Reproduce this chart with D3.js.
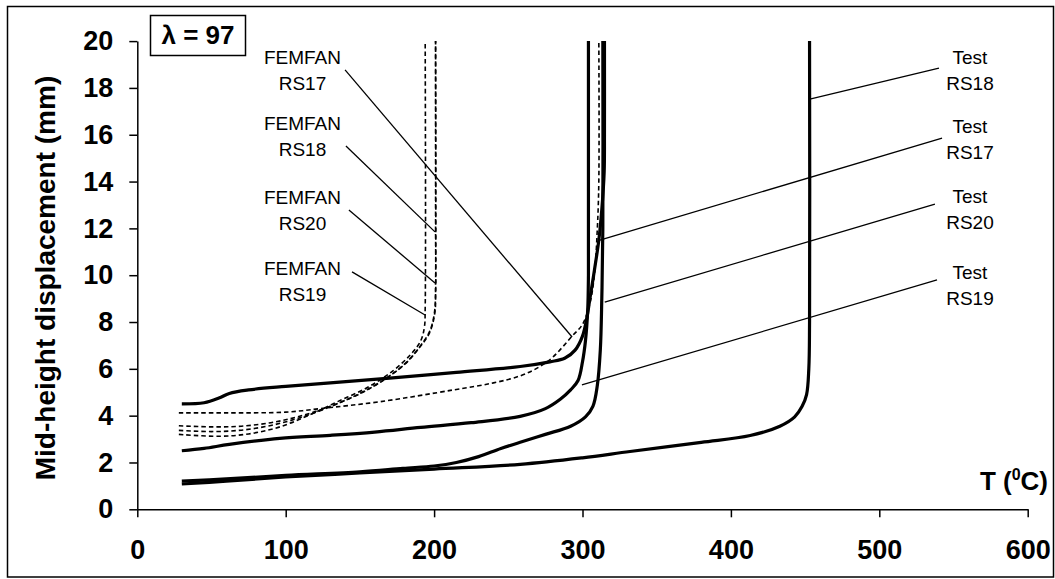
<!DOCTYPE html>
<html>
<head>
<meta charset="utf-8">
<script src="https://cdn.jsdelivr.net/npm/d3@7"></script>
<style>
  body { margin: 0; background: #fff; }
  svg { display: block; }
  text { font-family: "Liberation Sans", Arial, sans-serif; fill: #000; }
</style>
</head>
<body>
<svg id="chart" width="1055" height="579"></svg>
<script>
// Axis ticks
const xTickValues = [0, 100, 200, 300, 400, 500, 600];
const yTickValues = [0, 2, 4, 6, 8, 10, 12, 14, 16, 18, 20];

// Measured furnace tests: [temperature (°C), mid-height displacement (mm)]
const testRS17 = [[30,4.5],[45,4.55],[55,4.75],[62,4.95],[75,5.1],[100,5.25],[130,5.4],[170,5.6],[215,5.85],[258,6.1],[278,6.3],[288,6.45],[295,6.8],[300,7.4],[303,8.2],[305,9.0],[308,10.2],[311,11.5],[313,12.8],[314.6,14.4],[314.8,16],[314.8,20]];
const testRS18 = [[30,1.08],[60,1.2],[100,1.38],[150,1.55],[200,1.72],[258,1.92],[300,2.2],[332,2.47],[380,2.86],[413,3.15],[433,3.55],[443,3.95],[448,4.4],[451,4.9],[452.5,6],[453,8],[453,20]];
const testRS19 = [[30,2.5],[45,2.6],[62,2.77],[96,3.03],[130,3.16],[160,3.3],[191,3.5],[225,3.7],[258,3.97],[275,4.3],[285,4.7],[292,5.1],[297,5.5],[300,6.3],[302,7.2],[303.5,8.5],[304,10],[304,14],[304,20]];
const testRS20 = [[30,1.2],[60,1.3],[100,1.45],[150,1.6],[179,1.75],[200,1.85],[215,2.0],[230,2.25],[245,2.6],[258,2.86],[275,3.2],[292,3.55],[302,3.95],[307,4.4],[310,5.3],[312,6.8],[313,9],[313.7,12],[313.7,20]];

// FEMFAN simulations
const femfanRS17 = [[28,4.12],[60,4.12],[100,4.15],[123,4.3],[164,4.6],[213,5.1],[240,5.4],[258,5.7],[270,6.05],[280,6.5],[293,7.4],[300,7.9],[305,8.8],[308,10],[310,12],[311,14],[311,20]];
const femfanRS18 = [[28,3.57],[50,3.52],[70,3.55],[90,3.7],[108,3.95],[130,4.4],[152,5.0],[170,5.7],[182,6.3],[191,7.0],[197,7.6],[200,8.3],[201,9.2],[201,12],[201,20]];
const femfanRS19 = [[28,3.2],[55,3.12],[75,3.22],[95,3.5],[115,4.0],[135,4.6],[155,5.2],[172,5.9],[184,6.6],[191,7.2],[193.5,7.8],[194,8.6],[194,20]];
const femfanRS20 = [[28,3.37],[50,3.32],[70,3.38],[90,3.58],[110,3.92],[130,4.38],[150,4.95],[168,5.6],[180,6.2],[190,6.9],[197,7.55],[200.5,8.4],[201,9.6],[201,20]];

const testSeries = [testRS17, testRS18, testRS19, testRS20];
const femfanSeries = [femfanRS17, femfanRS18, femfanRS19, femfanRS20];

// Callout labels: two text lines, anchor (T, disp) of first baseline, leader from -> to in data units
const femfanCallouts = [
  { lines: ["FEMFAN", "RS17"], at: [111.3, 19.03], from: [140, 18.77], to: [293, 7.36] },
  { lines: ["FEMFAN", "RS18"], at: [111.3, 16.19], from: [140.6, 15.52], to: [200.6, 11.85] },
  { lines: ["FEMFAN", "RS20"], at: [111.3, 13.04], from: [142.6, 12.78], to: [200.6, 9.67] },
  { lines: ["FEMFAN", "RS19"], at: [111.3, 10.01], from: [144.7, 10.14], to: [193.9, 8.3] }
];
const testCallouts = [
  { lines: ["Test", "RS18"], at: [561.1, 19.02], from: [540.2, 18.85], to: [453.9, 17.53] },
  { lines: ["Test", "RS17"], at: [561.1, 16.07], from: [542.3, 15.86], to: [311.7, 11.5] },
  { lines: ["Test", "RS20"], at: [561.1, 13.08], from: [537.5, 13.04], to: [315, 8.85] },
  { lines: ["Test", "RS19"], at: [561.1, 9.84], from: [538.9, 9.8], to: [299.6, 5.31] }
];

const svg = d3.select("#chart");

// Outer frame
svg.append("rect")
  .attr("x", 7.5).attr("y", 6.5).attr("width", 1046).attr("height", 570.5)
  .attr("fill", "none").attr("stroke", "#000").attr("stroke-width", 1.5);

const x = d3.scaleLinear().domain([0, 600]).range([137.3, 1027.7]);
const y = d3.scaleLinear().domain([0, 20]).range([509.3, 41.1]);

// Axes
const xAxis = svg.append("g")
  .attr("transform", `translate(0,${y(0)})`)
  .call(d3.axisBottom(x).tickValues(xTickValues).tickSize(8).tickSizeOuter(0).tickPadding(23));
const yAxis = svg.append("g")
  .attr("transform", `translate(${x(0)},0)`)
  .call(d3.axisLeft(y).tickValues(yTickValues).tickSize(8).tickSizeOuter(0).tickPadding(16));

[xAxis, yAxis].forEach(g => {
  g.selectAll("path, line").attr("stroke", "#000").attr("stroke-width", 1.5);
  g.selectAll("text")
    .attr("fill", "#000")
    .style("font-family", '"Liberation Sans", Arial, sans-serif')
    .style("font-size", "27px")
    .style("font-weight", "bold");
});

// Axis titles
svg.append("text")
  .attr("transform", "translate(55,278) rotate(-90)")
  .attr("text-anchor", "middle")
  .style("font-size", "28px").style("font-weight", "bold")
  .text("Mid-height displacement (mm)");

const tTitle = svg.append("text")
  .attr("x", 1048).attr("y", 490)
  .attr("text-anchor", "end")
  .style("font-size", "26px").style("font-weight", "bold");
tTitle.append("tspan").text("T (");
tTitle.append("tspan").attr("dy", -10).style("font-size", "16px").text("0");
tTitle.append("tspan").attr("dy", 10).text("C)");

// Slenderness tag
svg.append("rect")
  .attr("x", 150.5).attr("y", 15.5).attr("width", 95).attr("height", 40)
  .attr("fill", "#fff").attr("stroke", "#000").attr("stroke-width", 1.5);
svg.append("text")
  .attr("x", 198).attr("y", 43.5)
  .attr("text-anchor", "middle")
  .style("font-size", "26px").style("font-weight", "bold")
  .text("λ = 97");

// Curves
const line = d3.line()
  .x(d => x(d[0]))
  .y(d => y(d[1]))
  .curve(d3.curveCatmullRom.alpha(0.5));

svg.append("g").selectAll("path")
  .data(femfanSeries)
  .join("path")
  .attr("d", line)
  .attr("fill", "none")
  .attr("stroke", "#000")
  .attr("stroke-width", 1.6)
  .attr("stroke-dasharray", "4.5,3");

svg.append("g").selectAll("path")
  .data(testSeries)
  .join("path")
  .attr("d", line)
  .attr("fill", "none")
  .attr("stroke", "#000")
  .attr("stroke-width", 3.2)
  .attr("stroke-linejoin", "round");

// Callouts with leader lines
const callouts = femfanCallouts.concat(testCallouts);
const cg = svg.append("g");
cg.selectAll("line")
  .data(callouts)
  .join("line")
  .attr("x1", d => x(d.from[0])).attr("y1", d => y(d.from[1]))
  .attr("x2", d => x(d.to[0])).attr("y2", d => y(d.to[1]))
  .attr("stroke", "#000").attr("stroke-width", 1.3);

cg.selectAll("text")
  .data(callouts)
  .join("text")
  .attr("text-anchor", "middle")
  .style("font-size", "19px")
  .each(function (d) {
    const t = d3.select(this);
    d.lines.forEach((s, i) => {
      t.append("tspan")
        .attr("x", x(d.at[0]))
        .attr("y", y(d.at[1]) + i * 26)
        .text(s);
    });
  });
</script>
</body>
</html>
